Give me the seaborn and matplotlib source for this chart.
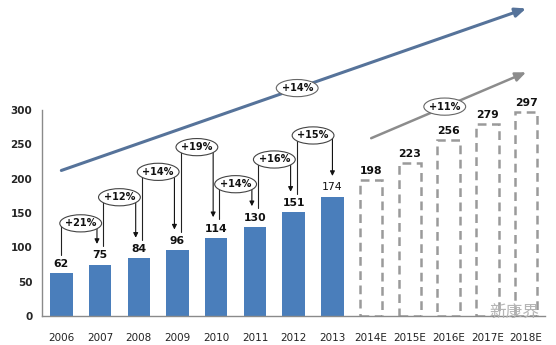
import matplotlib
matplotlib.use('Agg')
import matplotlib.pyplot as plt
from matplotlib.patches import Ellipse
import seaborn as sns
import pandas as pd

# ---- data ----
years = ['2006', '2007', '2008', '2009', '2010', '2011', '2012', '2013',
         '2014E', '2015E', '2016E', '2017E', '2018E']
values = [62, 75, 84, 96, 114, 130, 151, 174, 198, 223, 256, 279, 297]
n_actual = 8
growth_labels = ['+21%', '+12%', '+14%', '+19%', '+14%', '+16%', '+15%']
growth_label_y = [135, 173, 210, 246, 192, 228, 263]
trend_labels = ['+14%', '+11%']
trend_lines = [((0, 212), (12, 448)), ((8, 259), (12, 355))]
trend_label_pos = [(6.09, 332), (9.9, 305)]
yticks = [0, 50, 100, 150, 200, 250, 300]
watermark = '新康界'

sns.set_style('white')
plt.rcParams['font.family'] = ['DejaVu Sans', 'Noto Sans CJK SC']

df = pd.DataFrame({'year': years, 'value': values})

fig = plt.figure(figsize=(5.56, 3.45), dpi=100)
ax = fig.add_axes([0.0755, 0.084, 0.9055, 0.597])

blue = '#4a7ebb'
sns.barplot(data=df, x='year', y='value', color=blue, width=0.58,
            saturation=1, ax=ax, zorder=2)

for i, p in enumerate(ax.patches):
    if i >= n_actual:
        p.set_facecolor('none')
        p.set_edgecolor('#9a9a9a')
        p.set_linewidth(1.8)
        p.set_linestyle((0, (3.5, 2.2)))
    else:
        p.set_edgecolor('none')

ax.set_xlim(-0.5, 12.5)
ax.set_ylim(0, 300)
ax.set_yticks(yticks)
ax.set_xlabel('')
ax.set_ylabel('')
for s in ['top', 'right']:
    ax.spines[s].set_visible(False)
for s in ['left', 'bottom']:
    ax.spines[s].set_color('#8a8a8a')
    ax.spines[s].set_linewidth(1.0)
ax.tick_params(axis='y', length=4, color='#8a8a8a', pad=3, labelsize=7.5)
ax.tick_params(axis='x', length=0, pad=12, labelsize=7.5)
for t in ax.get_yticklabels():
    t.set_fontweight('bold')
for t in ax.get_xticklabels():
    t.set_color('#222222')

# value labels
for i, v in enumerate(values):
    ax.annotate(str(v), xy=(i, v), xytext=(0, 3), textcoords='offset points',
                ha='center', va='bottom', fontsize=7.8,
                fontweight='normal' if i == n_actual - 1 else 'bold',
                color='#111111', annotation_clip=False, zorder=5)

# ellipse size in data units (x: category width, y: value units)
ell_w, ell_h = 1.08, 25


def ellipse_label(x, y, text, ec):
    e = Ellipse((x, y), ell_w, ell_h, facecolor='white', edgecolor=ec,
                lw=0.8, zorder=5, clip_on=False)
    ax.add_patch(e)
    ax.text(x, y, text, ha='center', va='center', fontsize=7,
            fontweight='bold', color='#111111', zorder=6, clip_on=False)


# growth brackets
off = 0.08
for k, (lab, ey) in enumerate(zip(growth_labels, growth_label_y)):
    xl = k + (off if k > 0 else 0)
    xr = k + 1 - (off if k + 1 < n_actual - 1 else 0)
    ax.plot([xl, xl], [values[k] + 27, ey], color='#222222', lw=0.8,
            clip_on=False, zorder=3)
    ax.annotate('', xy=(xr, values[k + 1] + 30), xytext=(xr, ey),
                arrowprops=dict(arrowstyle='-|>', color='#111111', lw=0.8,
                                mutation_scale=7, shrinkA=0, shrinkB=0),
                annotation_clip=False, zorder=3)
    ellipse_label(k + 0.5, ey, lab, '#444444')

# trend arrows
trend_colors = ['#56739a', '#8c8c8c']
trend_lw = [2.2, 1.8]
for (p0, p1), c, lw in zip(trend_lines, trend_colors, trend_lw):
    ax.annotate('', xy=p1, xytext=p0,
                arrowprops=dict(arrowstyle='-|>,head_length=0.7,head_width=0.3',
                                color=c, lw=lw,
                                mutation_scale=9, shrinkA=0, shrinkB=0),
                annotation_clip=False, zorder=3)
for lab, (tx, ty) in zip(trend_labels, trend_label_pos):
    ellipse_label(tx, ty, lab, '#666666')

# watermark
fig.text(0.925, 0.092, watermark, ha='center', va='center', fontsize=12,
         color='#b5b5b5', family=['Noto Sans CJK SC', 'DejaVu Sans'], zorder=7)

fig.savefig('out.png', dpi=100)
